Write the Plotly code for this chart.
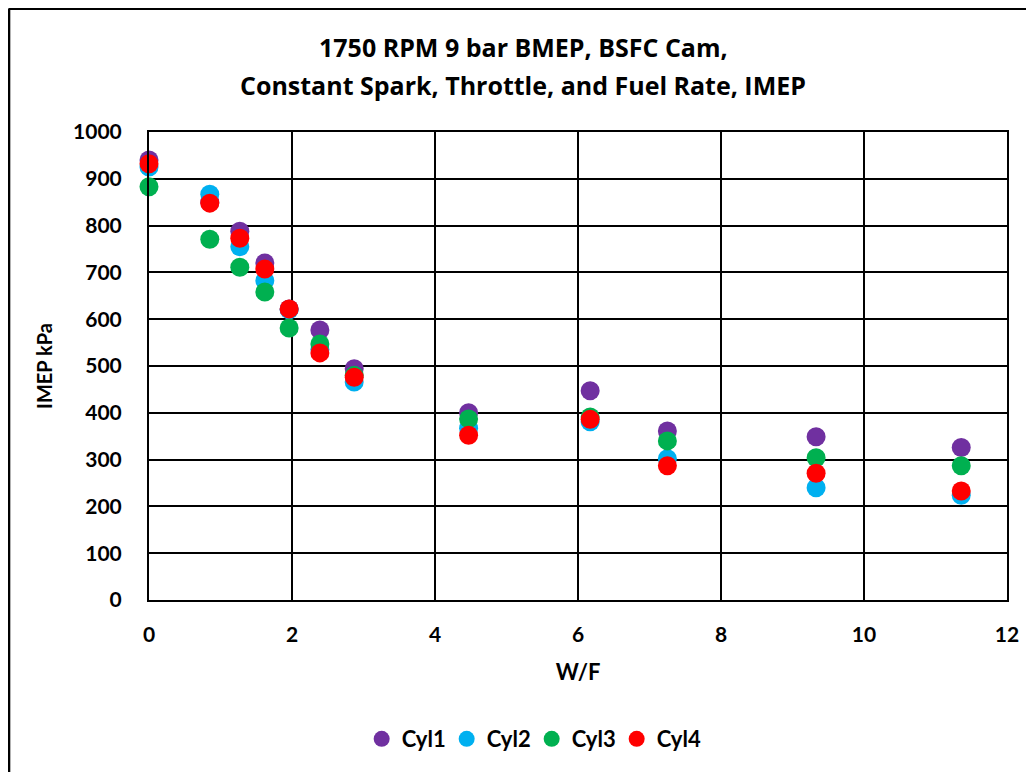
import plotly.graph_objects as go

wf = [0, 0.85, 1.27, 1.62, 1.96, 2.39, 2.87, 4.47, 6.17, 7.25, 9.33, 11.36]
cyl1 = [940, 850, 788, 720, 622, 577, 494, 400, 447, 361, 349, 326]
cyl2 = [925, 867, 755, 682, 620, 535, 466, 367, 381, 302, 240, 224]
cyl3 = [883, 771, 711, 658, 581, 547, 480, 387, 391, 340, 304, 287]
cyl4 = [932, 848, 773, 707, 622, 528, 476, 352, 386, 287, 271, 233]

series = [("Cyl1", cyl1, "#7030A0"), ("Cyl2", cyl2, "#00B0F0"),
          ("Cyl3", cyl3, "#00B050"), ("Cyl4", cyl4, "#FF0000")]
title_lines = ["1750 RPM 9 bar BMEP, BSFC Cam,",
               "Constant Spark, Throttle, and Fuel Rate, IMEP"]

font = "Lato"
tfont = "Open Sans"
fig = go.Figure()
for name, vals, col in series:
    fig.add_trace(go.Scatter(x=wf, y=vals, mode="markers", name="<b>" + name + "</b>",
                             marker=dict(color=col, size=19, line=dict(width=0)),
                             cliponaxis=False))

fig.update_layout(
    width=1026, height=764,
    margin=dict(l=141, r=27, t=124, b=172),
    paper_bgcolor="white", plot_bgcolor="white",
    font=dict(family=font, color="black", size=21),
    xaxis=dict(range=[0, 12], dtick=2, showgrid=True, gridcolor="black", gridwidth=2,
               showline=True, linecolor="black", linewidth=2, mirror=True,
               zeroline=False, ticks="", ticklabelstandoff=15,
               tickfont=dict(size=21, family=font, color="black"),
               tickprefix="<b>", ticksuffix="</b>",
               title=dict(text="<b>W/F</b>", font=dict(size=22, family=font), standoff=19)),
    yaxis=dict(range=[0, 1000], dtick=100, showgrid=True, gridcolor="black", gridwidth=2,
               showline=True, linecolor="black", linewidth=2, mirror=True,
               zeroline=False, ticks="", ticklabelstandoff=21,
               tickfont=dict(size=21, family=font, color="black"),
               tickprefix="<b>", ticksuffix="</b>",
               title=dict(text="<b>IMEP kPa</b>", font=dict(size=20, family=font), standoff=15)),
    legend=dict(orientation="h", x=0.446, xanchor="center", y=-0.297, yanchor="middle",
                font=dict(size=22, family=font), itemwidth=30,
                entrywidth=40, entrywidthmode="pixels",
                traceorder="normal"),
    showlegend=True,
)

for i, (txt, py) in enumerate(zip(title_lines, [39, 77])):
    fig.add_annotation(text="<b>" + txt + "</b>", xref="paper", yref="paper",
                       x=0.436, y=(592 - py) / 468, xanchor="center", yanchor="middle",
                       showarrow=False, font=dict(size=25, family=tfont, color="black"))

# outer frame (only left and top visible in the reference)
fig.add_shape(type="line", xref="paper", yref="paper", x0=-0.1634, x1=1.05, y0=1.2638, y1=1.2638,
              line=dict(color="black", width=3))
fig.add_shape(type="line", xref="paper", yref="paper", x0=-0.1634, x1=-0.1634, y0=1.2638, y1=-0.4,
              line=dict(color="black", width=3))

fig.write_html("out.html")
